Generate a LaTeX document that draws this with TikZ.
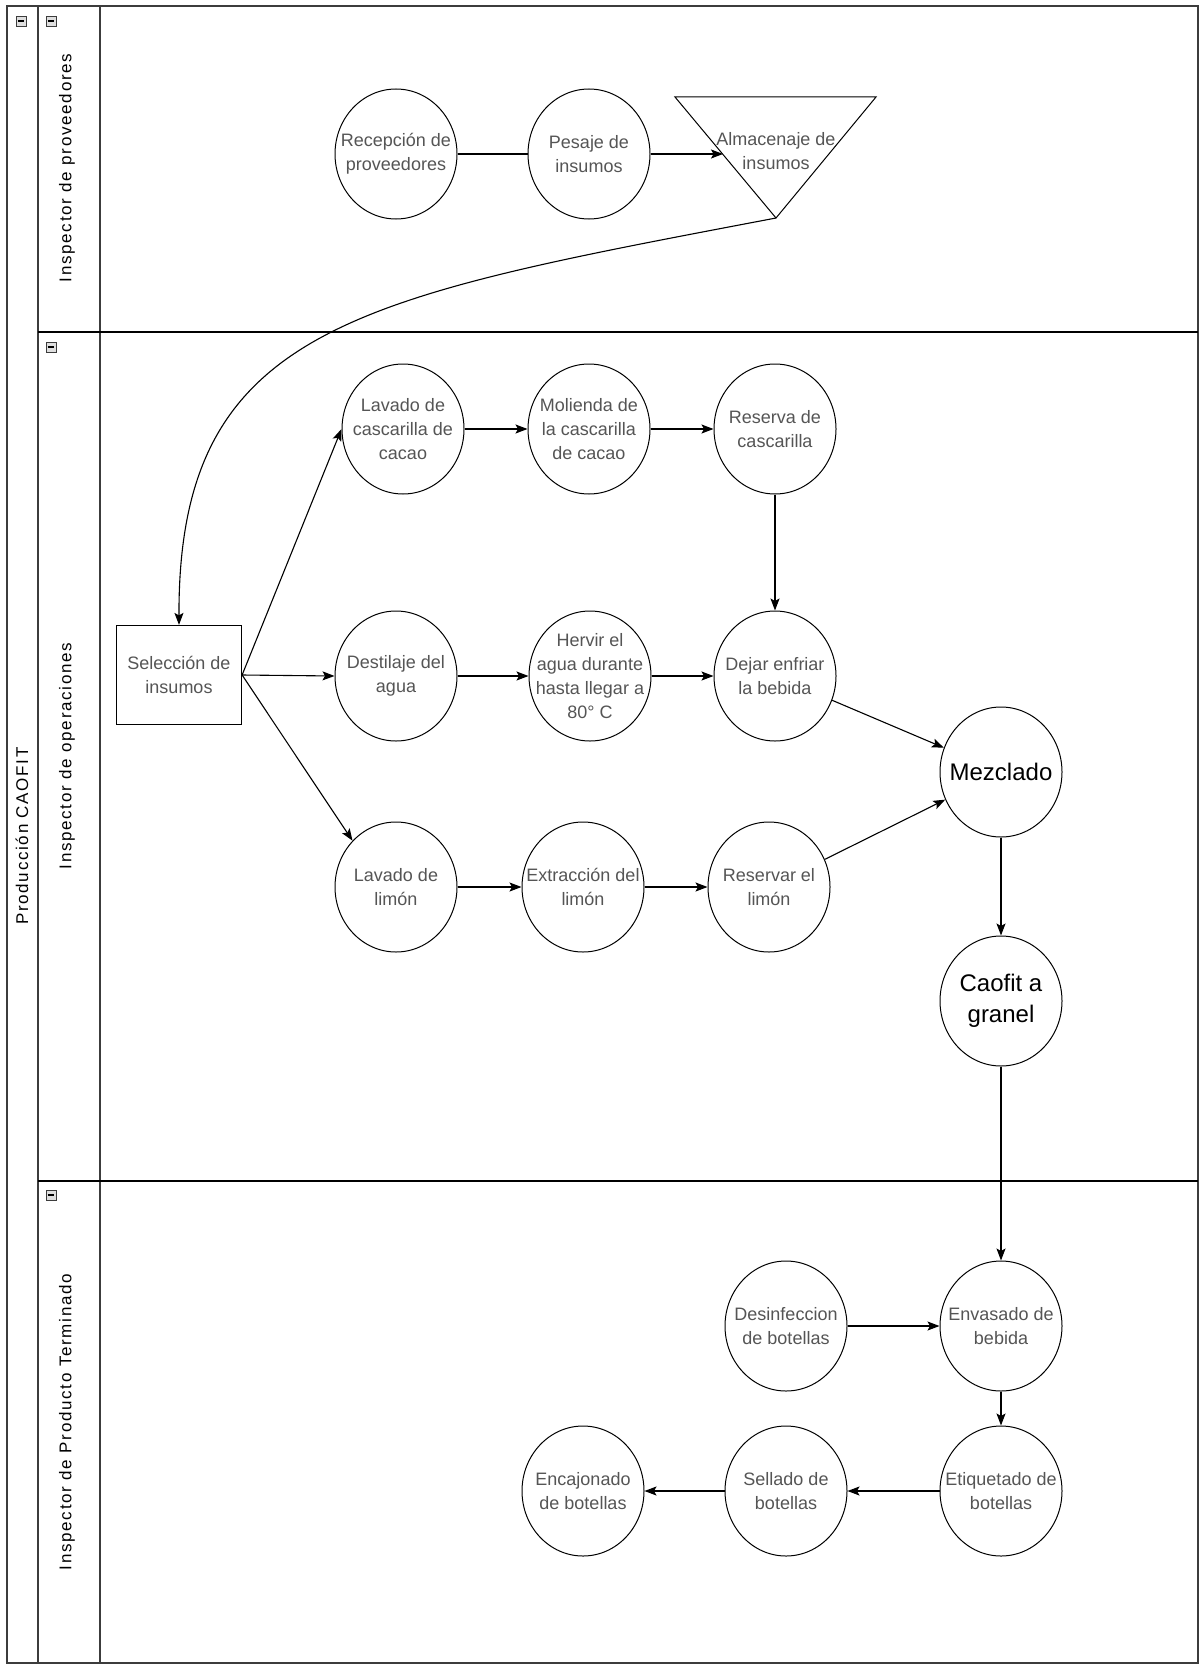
\documentclass[tikz,border=0pt]{standalone}
\usepackage{fontspec}
\setmainfont{Liberation Sans}
\newfontfamily\lanefont[LetterSpace=10]{Liberation Sans}
\usetikzlibrary{shapes.geometric,arrows.meta}
\definecolor{txtgray}{RGB}{85,85,85}
\definecolor{framegray}{RGB}{60,60,60}
\begin{document}
\begin{tikzpicture}[x=1pt,y=-1pt,
  proc/.style={ellipse,draw,line width=1pt,minimum width=122pt,minimum height=130pt,inner sep=0pt},
  ptext/.style={align=center,text=txtgray,font=\fontsize{18}{24}\selectfont,inner sep=0pt},
  btext/.style={align=center,text=black,font=\fontsize{24}{31}\selectfont,inner sep=0pt},
  arr/.style={-{Stealth[length=12pt,width=9pt,inset=2.5pt]},line width=1.1pt},
  plain/.style={line width=1.1pt},
  lane/.style={draw=framegray,line width=1.6pt},
  lanelabel/.style={rotate=90,inner sep=0pt,font=\lanefont\fontsize{17}{20}\selectfont},
  icon/.style={draw=framegray,fill=gray!25,line width=0.6pt,minimum width=10pt,minimum height=10pt,inner sep=0pt}
]
\useasboundingbox (0,0) rectangle (1201,1664);
\fill[white] (0,0) rectangle (1201,1664);

% pool and lanes
\draw[lane] (7,6) rectangle (1198,1663);
\draw[lane] (38,6) -- (38,1663);
\draw[lane] (100,6) -- (100,1663);
\draw[lane,draw=black] (38,332) -- (1198,332);
\draw[lane,draw=black] (38,1181) -- (1198,1181);

% collapse icons
\node[icon] (ic0) at (21,21) {};
\node[icon] (ic1) at (51,21) {};
\node[icon] (ic2) at (51,347) {};
\node[icon] (ic3) at (51,1195) {};
\foreach \i in {ic0,ic1,ic2,ic3}{
  \draw[line width=1.4pt] ([xshift=2pt]\i.west) -- ([xshift=-2pt]\i.east);
}

% labels
\node[lanelabel] (pool) at (22,836) {Producción CAOFIT};
\node[lanelabel] (lane1) at (67,168) {Inspector de proveedores};
\node[lanelabel] (lane2) at (67,756) {Inspector de operaciones};
\node[lanelabel] (lane3) at (67,1422) {Inspector de Producto Terminado};

% lane 1
\node[proc] (rec) at (396,154) {};
\node[ptext] (rec-t) at (rec) {Recepción de\\proveedores};
\node[proc] (pes) at (589,154) {};
\node[ptext] (pes-t) at (pes) {Pesaje de\\insumos};
\coordinate (almTL) at (675,97);
\coordinate (almTR) at (876,97);
\coordinate (almB) at (776,218);
\coordinate (almIn) at (723,154);
\draw[line width=1pt] (almTL) -- (almTR) -- (almB) -- cycle;
\node[ptext] (alm) at (776,151) {Almacenaje de\\insumos};

% lane 2
\node[proc] (lcc) at (403,429) {};
\node[ptext] (lcc-t) at (lcc) {Lavado de\\cascarilla de\\cacao};
\node[proc] (mol) at (589,429) {};
\node[ptext] (mol-t) at (mol) {Molienda de\\la cascarilla\\de cacao};
\node[proc] (res) at (775,429) {};
\node[ptext] (res-t) at (res) {Reserva de\\cascarilla};

\node[draw,line width=1.2pt,minimum width=125pt,minimum height=99pt,inner sep=0pt,
      align=center,text=txtgray,font=\fontsize{18}{24}\selectfont] (sel) at (179,675) {Selección de\\insumos};
\node[proc] (des) at (396,676) {};
\node[ptext] (des-t) at (des) {Destilaje del\\agua};
\node[proc] (her) at (590,676) {};
\node[ptext] (her-t) at (her) {Hervir el\\agua durante\\hasta llegar a\\80° C};
\node[proc] (dej) at (775,676) {};
\node[ptext] (dej-t) at (dej) {Dejar enfriar\\la bebida};
\node[proc] (mez) at (1001,772) {};
\node[btext] (mez-t) at (mez) {Mezclado};

\node[proc] (lim) at (396,887) {};
\node[ptext] (lim-t) at (lim) {Lavado de\\limón};
\node[proc] (ext) at (583,887) {};
\node[ptext] (ext-t) at (ext) {Extracción del\\limón};
\node[proc] (rlim) at (769,887) {};
\node[ptext] (rlim-t) at (rlim) {Reservar el\\limón};
\node[proc] (caf) at (1001,1001) {};
\node[btext] (caf-t) at (caf) {Caofit a\\granel};

% lane 3
\node[proc] (dsf) at (786,1326) {};
\node[ptext] (dsf-t) at (dsf) {Desinfeccion\\de botellas};
\node[proc] (env) at (1001,1326) {};
\node[ptext] (env-t) at (env) {Envasado de\\bebida};
\node[proc] (eti) at (1001,1491) {};
\node[ptext] (eti-t) at (eti) {Etiquetado de\\botellas};
\node[proc] (sll) at (786,1491) {};
\node[ptext] (sll-t) at (sll) {Sellado de\\botellas};
\node[proc] (enc) at (583,1491) {};
\node[ptext] (enc-t) at (enc) {Encajonado\\de botellas};

% connectors
\draw[plain] (rec.east) -- (pes.west);
\draw[arr] (pes.east) -- (almIn);
\draw[arr] (almB) .. controls (356,298) and (178,326) .. (sel.north);
\draw[arr] (sel.east) -- (lcc.west);
\draw[arr] (sel.east) -- (des.west);
\draw[arr] (sel.east) -- (lim.north west);
\draw[arr] (lcc.east) -- (mol.west);
\draw[arr] (mol.east) -- (res.west);
\draw[arr] (res.south) -- (dej.north);
\draw[arr] (des.east) -- (her.west);
\draw[arr] (her.east) -- (dej.west);
\draw[arr] (dej) -- (mez);
\draw[arr] (lim.east) -- (ext.west);
\draw[arr] (ext.east) -- (rlim.west);
\draw[arr] (rlim) -- (mez);
\draw[arr] (mez.south) -- (caf.north);
\draw[arr] (caf.south) -- (env.north);
\draw[arr] (dsf.east) -- (env.west);
\draw[arr] (env.south) -- (eti.north);
\draw[arr] (eti.west) -- (sll.east);
\draw[arr] (sll.west) -- (enc.east);
\end{tikzpicture}
\end{document}
